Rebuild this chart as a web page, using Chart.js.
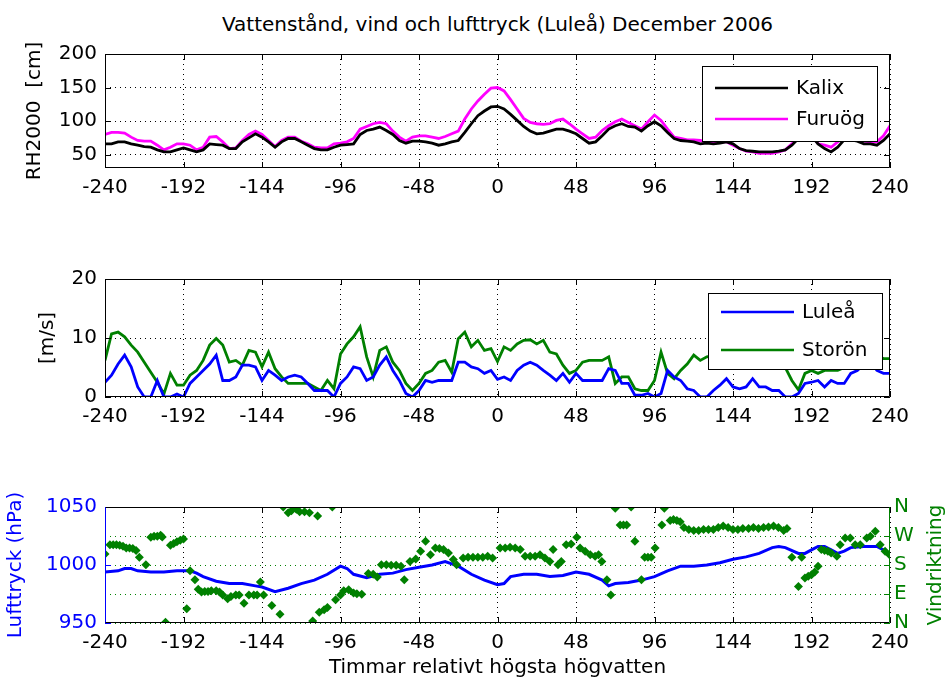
<!DOCTYPE html>
<html>
<head>
<meta charset="utf-8">
<script src="https://cdn.jsdelivr.net/npm/chart.js@4"></script>
<style>
  body { margin: 0; background: #fff; }
  #page { position: relative; width: 950px; height: 687px; overflow: hidden; font-family: 'DejaVu Sans', sans-serif; }
  #titel { position: absolute; top: 12px; left: 105px; width: 785px; text-align: center; font-size: 20px; line-height: 24px; color: #000; }
  .panel { position: absolute; left: 0; width: 950px; }
</style>
</head>
<body>
<div id="page">
  <div id="titel">Vattenstånd, vind och lufttryck (Luleå) December 2006</div>
  <div class="panel" style="top:0;height:200px"><canvas id="vattenstand"></canvas></div>
  <div class="panel" style="top:240px;height:190px"><canvas id="vind"></canvas></div>
  <div class="panel" style="top:470px;height:217px"><canvas id="lufttryck"></canvas></div>
</div>
<script>
// --- Data (timmar relativt högsta högvatten) ---
const hourTicks = [-240, -192, -144, -96, -48, 0, 48, 96, 144, 192, 240];

// var 4:e timme, -240 .. 240
const hours = [-240, -236, -232, -228, -224, -220, -216, -212, -208, -204,
  -200, -196, -192, -188, -184, -180, -176, -172, -168, -164,
  -160, -156, -152, -148, -144, -140, -136, -132, -128, -124,
  -120, -116, -112, -108, -104, -100, -96, -92, -88, -84,
  -80, -76, -72, -68, -64, -60, -56, -52, -48, -44,
  -40, -36, -32, -28, -24, -20, -16, -12, -8, -4,
  0, 4, 8, 12, 16, 20, 24, 28, 32, 36,
  40, 44, 48, 52, 56, 60, 64, 68, 72, 76,
  80, 84, 88, 92, 96, 100, 104, 108, 112, 116,
  120, 124, 128, 132, 136, 140, 144, 148, 152, 156,
  160, 164, 168, 172, 176, 180, 184, 188, 192, 196,
  200, 204, 208, 212, 216, 220, 224, 228, 232, 236,
  240];

// Vattenstånd RH2000 [cm]
const kalix = [66, 66, 69, 69, 66, 64, 62, 61, 57, 54,
  54, 57, 60, 57, 54, 57, 66, 65, 64, 59,
  59, 69, 75, 81, 76, 69, 61, 69, 74, 74,
  69, 64, 59, 57, 57, 61, 64, 65, 66, 80,
  86, 88, 91, 86, 80, 71, 67, 70, 70, 69,
  67, 64, 66, 69, 71, 83, 96, 108, 115, 121,
  122, 118, 110, 101, 92, 85, 81, 82, 85, 88,
  88, 85, 81, 74, 67, 69, 78, 88, 93, 96,
  92, 91, 85, 93, 99, 93, 83, 74, 71, 70,
  69, 66, 67, 66, 67, 69, 66, 59, 56, 55,
  54, 54, 54, 55, 57, 64, 74, 80, 78, 66,
  59, 54, 61, 72, 72, 70, 66, 66, 64, 71,
  81];
const furuog = [80, 83, 83, 82, 76, 71, 70, 70, 64, 57,
  61, 66, 66, 64, 57, 61, 76, 77, 69, 59,
  60, 71, 80, 85, 80, 71, 62, 71, 76, 76,
  70, 66, 61, 60, 60, 66, 67, 69, 74, 88,
  92, 96, 98, 96, 85, 76, 70, 76, 78, 78,
  76, 74, 77, 81, 85, 103, 118, 130, 140, 149,
  150, 145, 132, 118, 104, 98, 96, 95, 96, 101,
  103, 96, 88, 81, 74, 76, 86, 93, 99, 103,
  98, 93, 88, 99, 109, 101, 88, 76, 74, 72,
  72, 71, 69, 69, 69, 69, 64, 59, 55, 54,
  52, 52, 52, 54, 57, 66, 76, 84, 80, 66,
  64, 61, 69, 76, 76, 74, 70, 69, 69, 78,
  93];

// Vindhastighet [m/s]
const lulea = [2.5, 3.7, 5.6, 7.1, 5.1, 1.7, 0, 0, 2.8, 0,
  0, 0.5, 0, 2.3, 3.4, 4.5, 5.6, 7.1, 2.8, 2.8,
  3.4, 5.4, 5.4, 5.1, 2.8, 4.5, 3.7, 2.8, 3.4, 3.7,
  3.4, 2.3, 1.1, 1.1, 1.1, 0, 2.3, 3.4, 5.1, 4.8,
  2.8, 3.4, 5.4, 6.8, 4.5, 2.8, 0.6, 0, 1.1, 2.8,
  2.5, 2.8, 2.8, 2.8, 5.9, 5.9, 5.1, 4.8, 4.0, 4.5,
  3.0, 3.4, 2.8, 4.5, 5.4, 5.9, 5.4, 4.5, 3.7, 2.8,
  4.0, 2.5, 4.0, 2.8, 2.8, 2.8, 2.8, 4.8, 4.5, 2.3,
  2.3, 0.3, 0.3, 0.6, 0, 0.6, 4.5, 3.4, 2.8, 1.4,
  1.1, 0, 0, 1.1, 2.0, 3.1, 1.7, 1.4, 1.7, 3.1,
  1.7, 1.7, 1.1, 1.1, 0, 0, 0.6, 2.3, 2.5, 2.8,
  1.7, 2.8, 2.3, 2.3, 4.0, 4.5, 5.5, 6.0, 4.5, 4.0,
  4.0];
const storon = [6.2, 10.7, 11, 10.2, 8.8, 7.6, 5.9, 4.2, 2.5, 0.5,
  4, 2, 2, 3.7, 4.5, 6.2, 8.8, 9.9, 8.8, 5.9,
  6.2, 5.4, 7.9, 7.6, 5.1, 7.6, 4.8, 3.4, 2.3, 2.3,
  2.3, 2.3, 1.7, 1.1, 2.8, 1.4, 7.3, 9.0, 10.2, 11.9,
  6.8, 3.4, 7.9, 8.5, 5.9, 4.5, 2.3, 1.1, 2.3, 4.0,
  4.5, 5.9, 6.2, 4.2, 9.9, 11.0, 8.5, 9.6, 7.9, 8.2,
  6.0, 8.5, 7.9, 9.0, 9.6, 9.7, 9.0, 9.6, 7.6, 7.3,
  5.4, 4.0, 4.5, 5.9, 6.2, 6.2, 6.2, 6.8, 2.3, 3.4,
  3.4, 1.4, 1.1, 1.1, 2.8, 7.6, 4.0, 3.1, 4.5, 5.6,
  7.1, 6.2, 6.8, 7, 7.5, 7, 6.5, 7, 7.5, 7,
  6.5, 6, 6.5, 6, 5, 2.8, 1.2, 4.0, 4.5, 4.0,
  4.5, 4.5, 4.5, 5, 6, 8, 9, 9.6, 7, 6.5,
  6.5];

// Lufttryck (hPa)
const pressHours = [-240, -232, -228, -224, -220, -212, -204, -196, -188, -184,
  -180, -172, -164, -156, -148, -144, -136, -128, -120, -112,
  -104, -96, -92, -88, -80, -72, -64, -56, -48, -40,
  -32, -24, -16, -8, 0, 4, 8, 16, 24, 32,
  40, 48, 56, 64, 68, 72, 80, 88, 96, 104,
  112, 120, 128, 136, 144, 152, 160, 168, 172, 176,
  184, 188, 192, 196, 200, 204, 208, 212, 216, 224,
  228, 232, 236, 240];
const pressure = [994, 995, 997, 997, 995, 994, 994, 995, 995, 993,
  990, 986, 984, 984, 982, 981, 977, 980, 984, 987,
  992, 999, 997, 992, 989, 992, 993, 996, 998, 1000,
  1003, 999, 992, 987, 983, 984, 990, 992, 992, 990,
  991, 994, 992, 987, 982, 984, 985, 987, 990, 995,
  999, 999, 1000, 1002, 1005, 1007, 1010, 1015, 1016, 1015,
  1010, 1010, 1013, 1016, 1016, 1013, 1010, 1012, 1015, 1016,
  1016, 1016, 1013, 1010];

// Vindriktning (grader, 0 = N)
const dirHours = [-240, -237, -235, -233, -231, -229, -227, -225, -223, -221,
  -219, -215, -212, -210, -208, -206, -205, -203, -200, -198,
  -196, -194, -192, -190, -188, -185, -183, -181, -179, -177,
  -175, -172, -170, -168, -165, -163, -160, -158, -155, -152,
  -149, -147, -145, -143, -138, -133, -131, -128, -126, -123,
  -121, -118, -115, -110, -113, -109, -106, -104, -101, -99,
  -96, -94, -91, -88, -86, -83, -79, -76, -73.5, -71,
  -68, -65, -62, -59, -57, -53.5, -50, -47, -44, -41,
  -38, -35.5, -33, -30, -27, -25, -21, -18, -15, -12,
  -9, -6, -3, 1.6, 4.7, 7.7, 10.8, 13.9, 16.9, 20,
  23, 26, 29, 32, 34, 37, 39, 42, 45, 48.5,
  50.5, 53.6, 56.7, 59.7, 61.8, 63.8, 66.9, 69.3, 72, 75,
  77, 79, 81.7, 84, 88, 90, 92, 94, 96.4, 100.5,
  102, 105.6, 107.6, 109.7, 111.7, 114, 117, 120, 123, 126,
  129, 132, 135, 138, 141, 144, 147, 150, 153.5, 156.5,
  159.6, 162.7, 165.7, 168.8, 171.8, 175, 177, 180, 184, 186,
  188, 190, 192, 194, 196, 198, 200, 202, 204, 207.5,
  209.5, 212.6, 215.7, 218.7, 221.8, 225.8, 228, 231, 234, 237,
  239.7];
const dirDegrees = [214, 243, 243, 243, 241, 238, 233, 233, 231, 225,
  204, 181, 266, 269, 269, 272, 267, 2, 241, 247,
  252, 257, 261, 44, 162, 134, 105, 96, 98, 98,
  100, 100, 96, 87, 75, 82, 87, 87, 61, 87,
  87, 87, 127, 87, 54, 27, 360, 342, 348, 353,
  345, 345, 342, 332, 6, 33, 41, 48, 360, 72,
  87, 100, 103, 93, 91, 89, 154, 151, 143, 181,
  181, 179, 179, 176, 134, 191, 199, 223, 254, 212,
  233, 231, 228, 217, 197, 181, 202, 204, 204, 204,
  204, 207, 202, 233, 233, 235, 233, 228, 207, 207,
  207, 212, 202, 191, 228, 181, 191, 243, 245, 266,
  233, 223, 212, 207, 212, 191, 134, 87, 356, 304,
  304, 304, 360, 254, 134, 204, 204, 204, 233, 304,
  356, 318, 321, 318, 314, 296, 290, 287, 287, 290,
  290, 290, 296, 301, 296, 290, 290, 293, 293, 296,
  293, 296, 298, 301, 296, 287, 293, 204, 113, 204,
  140, 145, 150, 158, 176, 228, 225, 223, 217, 207,
  243, 264, 264, 243, 243, 264, 269, 285, 243, 223,
  212];
const dirTicks = [0, 90, 180, 270, 360];
const dirLabels = ['N', 'E', 'S', 'W', 'N'];

// --- Utseende ---
Chart.defaults.font.family = "'DejaVu Sans', sans-serif";
Chart.defaults.font.size = 20;
Chart.defaults.color = '#000';
Chart.defaults.animation = false;

const BLUE = '#0000ff', GREEN = '#008000', MAGENTA = '#ff00ff';
const pts = (xs, ys) => xs.map((x, i) => ({ x: x, y: ys[i] }));

function xScale(height, title) {
  return {
    type: 'linear', min: -240, max: 240,
    afterBuildTicks: s => { s.ticks = hourTicks.map(v => ({ value: v })); },
    afterFit: s => { s.height = height; },
    grid: { color: '#000', drawTicks: false },
    border: { display: false, dash: [1, 4] },
    ticks: { padding: 8, maxRotation: 0, autoSkip: false, callback: v => String(v) },
    title: title
  };
}

function yScale(min, max, ticks, title, extra) {
  return Object.assign({
    type: 'linear', position: 'left', min: min, max: max,
    afterBuildTicks: s => { s.ticks = ticks.map(v => ({ value: v })); },
    afterFit: s => { s.width = 105; },
    grid: { color: '#000', drawTicks: false },
    border: { display: false, dash: [1, 4] },
    ticks: { padding: 8, callback: v => String(v) },
    title: title
  }, extra || {});
}

// ram runt axlarna med inåtriktade tickmarkeringar (som i MATLAB)
function frame(leftColor, rightColor, rightId) {
  return {
    id: 'frame',
    afterDatasetsDraw(chart) {
      const { ctx, chartArea: a, scales } = chart;
      const L = 6;
      const seg = (x1, y1, x2, y2, c) => {
        ctx.strokeStyle = c; ctx.beginPath(); ctx.moveTo(x1, y1); ctx.lineTo(x2, y2); ctx.stroke();
      };
      ctx.save();
      ctx.lineWidth = 1;
      scales.x.ticks.forEach(t => {
        const p = Math.round(scales.x.getPixelForValue(t.value)) + 0.5;
        seg(p, a.top, p, a.top + L, '#000');
        seg(p, a.bottom, p, a.bottom - L, '#000');
      });
      scales.y.ticks.forEach(t => {
        const p = Math.round(scales.y.getPixelForValue(t.value)) + 0.5;
        seg(a.left, p, a.left + L, p, leftColor);
        if (!rightId) seg(a.right, p, a.right - L, p, rightColor);
      });
      if (rightId) {
        scales[rightId].ticks.forEach(t => {
          const p = Math.round(scales[rightId].getPixelForValue(t.value)) + 0.5;
          seg(a.right, p, a.right - L, p, rightColor);
        });
      }
      const l = Math.round(a.left) + 0.5, r = Math.round(a.right) - 0.5;
      const t = Math.round(a.top) + 0.5, b = Math.round(a.bottom) - 0.5;
      seg(l, t, r, t, '#000');
      seg(l, b, r, b, '#000');
      seg(l, t, l, b, leftColor);
      seg(r, t, r, b, rightColor);
      ctx.restore();
    }
  };
}

// legend med vit bakgrund och ram
function legendBox(box, rows) {
  return {
    id: 'legendBox',
    afterDraw(chart) {
      const ctx = chart.ctx;
      ctx.save();
      ctx.fillStyle = '#fff';
      ctx.fillRect(box.x, box.y, box.w, box.h);
      ctx.strokeStyle = '#000';
      ctx.lineWidth = 1;
      ctx.strokeRect(box.x + 0.5, box.y + 0.5, box.w, box.h);
      ctx.font = "20px 'DejaVu Sans'";
      ctx.textBaseline = 'middle';
      chart.data.datasets.forEach((ds, i) => {
        const y = box.y + rows[i];
        ctx.strokeStyle = ds.borderColor;
        ctx.lineWidth = 2.5;
        ctx.beginPath();
        ctx.moveTo(box.x + 13, y);
        ctx.lineTo(box.x + 86, y);
        ctx.stroke();
        ctx.fillStyle = '#000';
        ctx.fillText(ds.label, box.x + 94, y + 1);
      });
      ctx.restore();
    }
  };
}

// högeraxelns titel, läses nerifrån och upp som i MATLAB
const rightTitle = {
  id: 'rightTitle',
  afterDraw(chart) {
    const { ctx, chartArea: a } = chart;
    ctx.save();
    ctx.translate(936, (a.top + a.bottom) / 2);
    ctx.rotate(-Math.PI / 2);
    ctx.font = "20px 'DejaVu Sans'";
    ctx.fillStyle = GREEN;
    ctx.textAlign = 'center';
    ctx.textBaseline = 'middle';
    ctx.fillText('Vindriktning', 0, 0);
    ctx.restore();
  }
};

const lineStyle = { pointRadius: 0, borderWidth: 2.8, tension: 0, fill: false };
const noPlugins = { legend: { display: false }, tooltip: { enabled: false } };

// --- Vattenstånd ---
new Chart(document.getElementById('vattenstand'), {
  type: 'line',
  data: {
    datasets: [
      Object.assign({ label: 'Kalix', data: pts(hours, kalix), borderColor: '#000' }, lineStyle),
      Object.assign({ label: 'Furuög', data: pts(hours, furuog), borderColor: MAGENTA }, lineStyle)
    ]
  },
  options: {
    responsive: true, maintainAspectRatio: false, events: [],
    layout: { padding: { top: 54, right: 60, left: 0, bottom: 0 } },
    plugins: noPlugins,
    scales: {
      x: xScale(32, { display: false }),
      y: yScale(30, 200, [50, 100, 150, 200],
        { display: true, text: 'RH2000  [cm]', padding: { top: 23, bottom: 0 } })
    }
  },
  plugins: [frame('#000', '#000'), legendBox({ x: 702, y: 66, w: 175, h: 75 }, [22, 53])]
});

// --- Vind ---
new Chart(document.getElementById('vind'), {
  type: 'line',
  data: {
    datasets: [
      Object.assign({ label: 'Luleå', data: pts(hours, lulea), borderColor: BLUE }, lineStyle),
      Object.assign({ label: 'Storön', data: pts(hours, storon), borderColor: GREEN }, lineStyle)
    ]
  },
  options: {
    responsive: true, maintainAspectRatio: false, events: [],
    layout: { padding: { top: 39, right: 60, left: 0, bottom: 0 } },
    plugins: noPlugins,
    scales: {
      x: xScale(33, { display: false }),
      y: yScale(0, 20, [0, 10, 20],
        { display: true, text: '[m/s]', padding: { top: 36, bottom: 0 } })
    }
  },
  plugins: [frame('#000', '#000'), legendBox({ x: 708, y: 53, w: 174, h: 76 }, [19, 57])]
});

// --- Lufttryck och vindriktning ---
new Chart(document.getElementById('lufttryck'), {
  type: 'line',
  data: {
    datasets: [
      {
        type: 'scatter', label: 'Vindriktning', yAxisID: 'dir',
        data: pts(dirHours, dirDegrees),
        pointStyle: 'rectRot', pointRadius: 4.5, borderWidth: 0,
        backgroundColor: GREEN, borderColor: GREEN, showLine: false
      },
      Object.assign({ label: 'Lufttryck', yAxisID: 'y', data: pts(pressHours, pressure), borderColor: BLUE },
        lineStyle, { borderWidth: 3 })
    ]
  },
  options: {
    responsive: true, maintainAspectRatio: false, events: [],
    layout: { padding: { top: 37, right: 0, left: 0, bottom: 0 } },
    plugins: noPlugins,
    scales: {
      x: xScale(64, { display: true, text: 'Timmar relativt högsta högvatten', padding: { top: 0, bottom: 7 } }),
      y: yScale(950, 1050, [950, 1000, 1050],
        { display: true, text: 'Lufttryck (hPa)', color: BLUE, padding: { top: 4, bottom: 0 } },
        {
          grid: { color: BLUE, drawTicks: false },
          ticks: { padding: 8, color: BLUE, callback: v => String(v) }
        }),
      dir: {
        type: 'linear', position: 'right', min: 0, max: 360,
        afterBuildTicks: s => { s.ticks = dirTicks.map(v => ({ value: v })); },
        afterFit: s => { s.width = 60; },
        grid: { color: GREEN, drawTicks: false, drawOnChartArea: true },
        border: { display: false, dash: [1, 4] },
        ticks: { padding: 4, color: GREEN, callback: v => dirLabels[dirTicks.indexOf(v)] },
        title: { display: false }
      }
    }
  },
  plugins: [frame(BLUE, GREEN, 'dir'), rightTitle]
});
</script>
</body>
</html>
